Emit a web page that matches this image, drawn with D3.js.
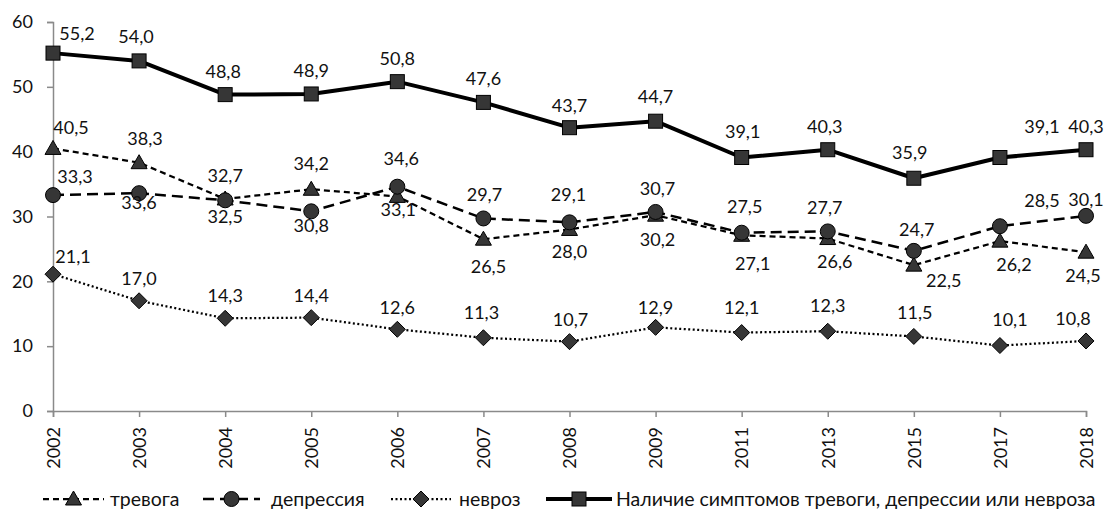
<!DOCTYPE html>
<html>
<head>
<meta charset="utf-8">
<script src="https://cdn.jsdelivr.net/npm/d3@7"></script>
<style>
  html, body { margin: 0; padding: 0; background: #fff; }
  svg { display: block; }
  text { font-family: Lato, "Open Sans", sans-serif; fill: #111; }
</style>
</head>
<body>
<svg id="chart" width="1113" height="511"></svg>
<script>
// Survey years (category axis)
const years = ["2002", "2003", "2004", "2005", "2006", "2007", "2008", "2009", "2011", "2013", "2015", "2017", "2018"];

// Share of respondents, %
const trevoga   = [40.5, 38.3, 32.7, 34.2, 33.1, 26.5, 28.0, 30.2, 27.1, 26.6, 22.5, 26.2, 24.5];
const depressia = [33.3, 33.6, 32.5, 30.8, 34.6, 29.7, 29.1, 30.7, 27.5, 27.7, 24.7, 28.5, 30.1];
const nevroz    = [21.1, 17.0, 14.3, 14.4, 12.6, 11.3, 10.7, 12.9, 12.1, 12.3, 11.5, 10.1, 10.8];
const nalichie  = [55.2, 54.0, 48.8, 48.9, 50.8, 47.6, 43.7, 44.7, 39.1, 40.3, 35.9, 39.1, 40.3];

const yTicks = [0, 10, 20, 30, 40, 50, 60];

const seriesNames = ["тревога", "депрессия", "невроз", "Наличие симптомов тревоги, депрессии или невроза"];

// Data-label placement relative to each point: [dx, baseline dy]
const trevogaLabelPos = [[18,-14],[6,-18],[0,-17],[0,-19],[1,20],[5,34],[0,29],[2,31],[11,35],[7,29],[30,22],[14,30],[-3,30]];
const depressiaLabelPos = [[22,-12],[0,16],[0,23],[0,21],[4,-22],[1,-17],[-1,-21],[2,-17],[3,-20],[-3,-17],[3,-15],[42,-19],[0,-10]];
const nevrozLabelPos = [[20,-11],[0,-16],[0,-16],[0,-16],[0,-15],[-2,-19],[1,-16],[0,-13],[0,-19],[0,-19],[1,-17],[10,-20],[-13,-16]];
const nalichieLabelPos = [[24,-13],[-3,-18],[-2,-17],[0,-17],[0,-17],[0,-17],[0,-16],[0,-18],[1,-20],[-3,-17],[-4,-19],[42,-25],[0,-17]];

const svg = d3.select("#chart");
const margin = { left: 53, right: 27, top: 22, bottom: 100 };
const W = 1113, H = 511;

const x = d3.scalePoint().domain(years).range([margin.left, W - margin.right]);
const y = d3.scaleLinear().domain([0, 60]).range([H - margin.bottom, margin.top]);

const axisColor = "#8a8a8a";
const markerFill = "#363636";
const fmt = v => d3.format(".1f")(v).replace(".", ",");

// Axes
const yAxis = svg.append("g")
  .attr("transform", `translate(${margin.left},0)`)
  .call(d3.axisLeft(y).tickValues(yTicks).tickSize(6).tickPadding(14).tickFormat(d3.format("d")));
const xAxis = svg.append("g")
  .attr("transform", `translate(0,${y(0)})`)
  .call(d3.axisBottom(x).tickSize(6).tickPadding(10));

[yAxis, xAxis].forEach(g => {
  g.select(".domain").attr("stroke", axisColor).attr("stroke-width", 1.5);
  g.selectAll(".tick line").attr("stroke", axisColor).attr("stroke-width", 1.5);
  g.selectAll("text").style("font-size", "18px").attr("fill", "#111");
});
xAxis.selectAll(".tick text")
  .attr("text-anchor", "end")
  .attr("dy", "0.35em")
  .attr("transform", "translate(0,16) rotate(-90)")
  .attr("x", 0).attr("y", 0);

// Series definitions
const series = [
  { values: trevoga,   labels: trevogaLabelPos,   dash: "6,4",   width: 2.25, marker: "triangle" },
  { values: depressia, labels: depressiaLabelPos, dash: "11,6",  width: 2.5,  marker: "circle" },
  { values: nevroz,    labels: nevrozLabelPos,    dash: "2,2.5", width: 2.25, marker: "diamond" },
  { values: nalichie,  labels: nalichieLabelPos,  dash: null,    width: 4,    marker: "square" }
];

function drawMarker(g, type, cx, cy) {
  if (type === "circle") {
    g.append("circle").attr("cx", cx).attr("cy", cy).attr("r", 7.5)
      .attr("fill", markerFill).attr("stroke", "#000").attr("stroke-width", 1);
  } else if (type === "square") {
    g.append("rect").attr("x", cx - 7).attr("y", cy - 7).attr("width", 14).attr("height", 14)
      .attr("fill", markerFill).attr("stroke", "#000").attr("stroke-width", 1);
  } else if (type === "triangle") {
    g.append("path").attr("d", `M${cx},${cy - 8}L${cx + 8},${cy + 6}L${cx - 8},${cy + 6}Z`)
      .attr("fill", markerFill).attr("stroke", "#000").attr("stroke-width", 1);
  } else if (type === "diamond") {
    g.append("path").attr("d", `M${cx},${cy - 8}L${cx + 8},${cy}L${cx},${cy + 8}L${cx - 8},${cy}Z`)
      .attr("fill", markerFill).attr("stroke", "#000").attr("stroke-width", 1);
  }
}

const line = d3.line().x((d, i) => x(years[i])).y(d => y(d));
const plot = svg.append("g");
series.forEach(s => {
  const g = plot.append("g");
  g.append("path").datum(s.values)
    .attr("d", line)
    .attr("fill", "none")
    .attr("stroke", "#000")
    .attr("stroke-width", s.width)
    .attr("stroke-linejoin", "round")
    .attr("stroke-dasharray", s.dash);
  s.values.forEach((v, i) => drawMarker(g, s.marker, x(years[i]), y(v)));
});

// Data labels on top of all lines
const labelLayer = svg.append("g");
series.forEach(s => {
  s.values.forEach((v, i) => {
    const [dx, dy] = s.labels[i];
    labelLayer.append("text")
      .attr("x", x(years[i]) + dx)
      .attr("y", y(v) + dy)
      .attr("text-anchor", "middle")
      .style("font-size", "18px")
      .text(fmt(v));
  });
});

// Legend
const legendY = 499;
const legendItems = [
  { x0: 43,  x1: 104, tx: 110 },
  { x0: 203, x1: 260, tx: 271 },
  { x0: 391, x1: 451, tx: 459 },
  { x0: 546, x1: 612, tx: 616 }
];
const legend = svg.append("g");
legendItems.forEach((it, k) => {
  const s = series[k];
  legend.append("line")
    .attr("x1", it.x0).attr("x2", it.x1).attr("y1", legendY).attr("y2", legendY)
    .attr("stroke", "#000").attr("stroke-width", s.width)
    .attr("stroke-dasharray", s.dash);
  drawMarker(legend, s.marker, (it.x0 + it.x1) / 2, legendY);
  legend.append("text")
    .attr("x", it.tx).attr("y", legendY).attr("dy", "0.35em")
    .style("font-size", "19.5px")
    .text(seriesNames[k]);
});
</script>
</body>
</html>
